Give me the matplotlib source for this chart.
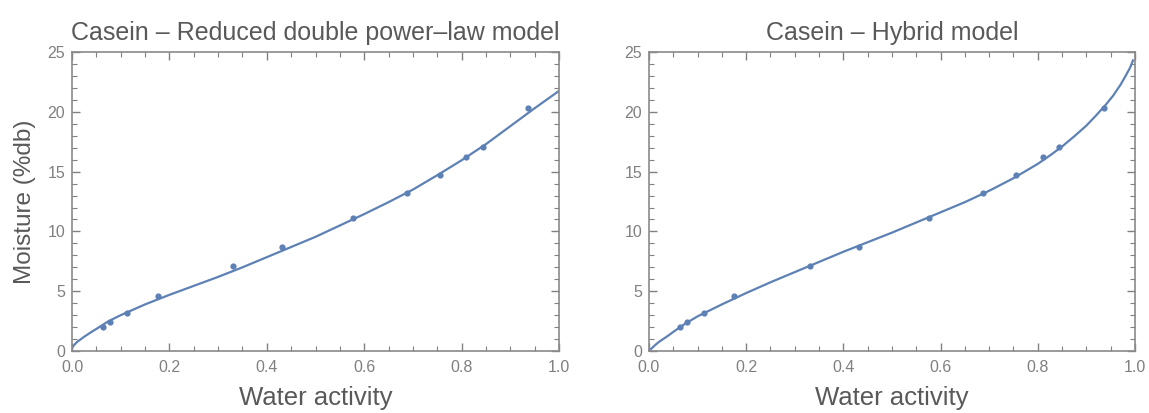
import matplotlib.pyplot as plt
from matplotlib.ticker import MultipleLocator

# measured sorption points (water activity vs moisture %db)
aw_data = [0.063, 0.078, 0.113, 0.176, 0.331, 0.432, 0.577, 0.688, 0.755, 0.810, 0.843, 0.936]
moist_data = [2.0, 2.4, 3.2, 4.6, 7.1, 8.7, 11.1, 13.2, 14.7, 16.2, 17.1, 20.3]

# model curves
aw_dpl = [0.0, 0.003, 0.01, 0.025, 0.04, 0.05, 0.075, 0.1, 0.125, 0.15, 0.2, 0.25, 0.3,
          0.35, 0.4, 0.45, 0.5, 0.55, 0.6, 0.65, 0.7, 0.75, 0.8, 0.85, 0.9, 0.95, 1.0]
moist_dpl = [0.25, 0.45, 0.75, 1.2, 1.6, 1.85, 2.5, 3.0, 3.45, 3.9, 4.7, 5.45, 6.2,
             7.0, 7.85, 8.7, 9.55, 10.5, 11.45, 12.45, 13.5, 14.7, 15.95, 17.3, 18.8, 20.3, 21.75]

aw_hyb = [0.0, 0.01, 0.02, 0.04, 0.05, 0.075, 0.1, 0.15, 0.2, 0.25, 0.3, 0.35, 0.4, 0.45,
          0.5, 0.55, 0.6, 0.65, 0.7, 0.75, 0.8, 0.825, 0.85, 0.875, 0.9, 0.92, 0.94,
          0.955, 0.97, 0.98, 0.99, 0.996]
moist_hyb = [0.0, 0.4, 0.75, 1.3, 1.6, 2.3, 2.9, 3.9, 4.85, 5.75, 6.6, 7.45, 8.3, 9.1,
             9.9, 10.75, 11.6, 12.45, 13.4, 14.45, 15.65, 16.35, 17.1, 17.95, 18.85, 19.7,
             20.6, 21.35, 22.25, 22.95, 23.7, 24.3]

panels = [
    ("Casein \u2013 Reduced double power\u2013law model", aw_dpl, moist_dpl),
    ("Casein \u2013 Hybrid model", aw_hyb, moist_hyb),
]

BLUE = "#5E81B5"
GREY = "#808080"
TEXT = "#595959"
plt.rcParams['font.family'] = ['Liberation Sans', 'DejaVu Sans']

fig = plt.figure(figsize=(11.49, 4.13), dpi=100)
rects = [[0.0627, 0.150, 0.4238, 0.724], [0.5648, 0.150, 0.4230, 0.724]]

for i, (title, xs, ys) in enumerate(panels):
    ax = fig.add_axes(rects[i])
    ax.plot(xs, ys, color=BLUE, lw=1.6, solid_joinstyle='round')
    ax.plot(aw_data, moist_data, 'o', color=BLUE, ms=4.5, mec='none')
    ax.set_xlim(0, 1)
    ax.set_ylim(0, 25)
    ax.xaxis.set_major_locator(MultipleLocator(0.2))
    ax.xaxis.set_minor_locator(MultipleLocator(0.05))
    ax.yaxis.set_major_locator(MultipleLocator(5))
    ax.yaxis.set_minor_locator(MultipleLocator(1))
    ax.xaxis.set_major_formatter(lambda v, p: f"{v:.1f}")
    ax.tick_params(which='both', direction='in', top=True, right=True,
                   color=GREY, labelcolor=GREY, labelsize=11.5)
    ax.tick_params(axis='x', which='major', pad=6.5)
    ax.tick_params(axis='y', which='major', pad=5)
    ax.tick_params(which='major', length=6, width=1)
    ax.tick_params(which='minor', length=3.5, width=0.8)
    for s in ax.spines.values():
        s.set_color("#8a8a8a")
        s.set_linewidth(1.2)
    ax.set_title(title, fontsize=18, color=TEXT, pad=9)
    ax.set_xlabel("Water activity", fontsize=18.5, color=TEXT, labelpad=8)
    if i == 0:
        ax.set_ylabel("Moisture (%db)", fontsize=17.5, color=TEXT, labelpad=8)

fig.savefig("out.png", dpi=100)
